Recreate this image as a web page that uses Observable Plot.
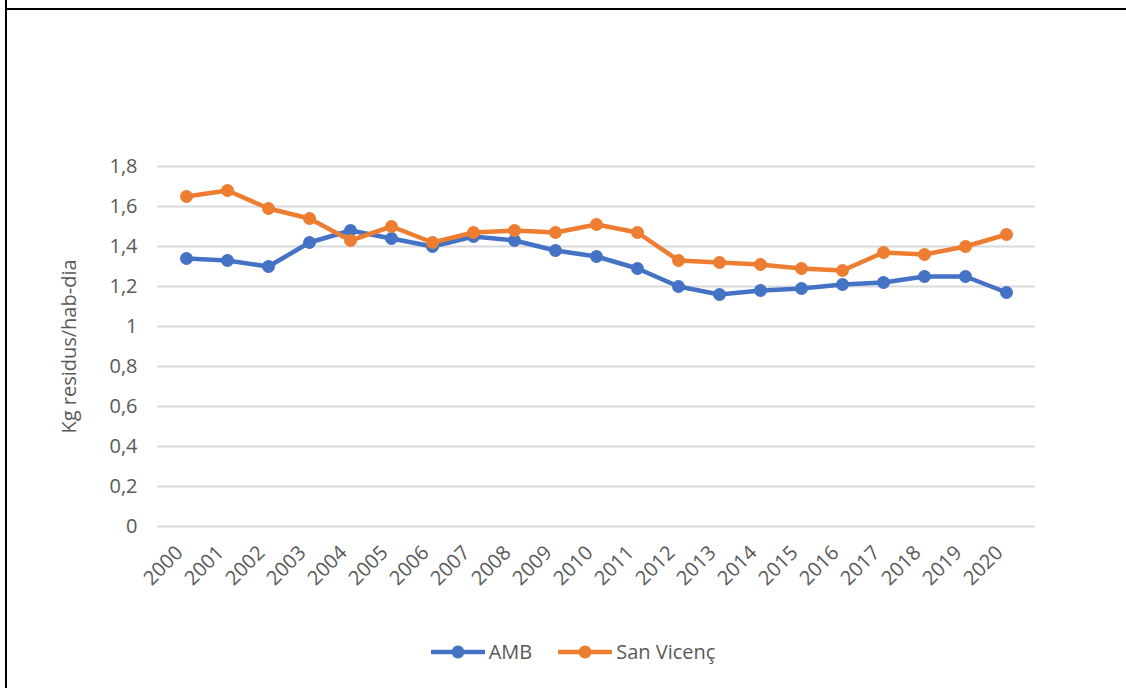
<!DOCTYPE html>
<html>
<head>
<meta charset="utf-8">
<script src="https://cdn.jsdelivr.net/npm/d3@7"></script>
<script src="https://cdn.jsdelivr.net/npm/@observablehq/plot@0.6"></script>
<style>
  html, body { margin: 0; padding: 0; background: #fff; }
  #wrap { position: relative; width: 1126px; height: 688px; overflow: hidden; font-family: "Open Sans", sans-serif; }
  .bl { position: absolute; left: 5px; top: 0; width: 2px; height: 688px; background: #000; }
  .bt { position: absolute; left: 5px; top: 8px; width: 1121px; height: 2px; background: #000; }
  #chart { position: absolute; left: 0; top: 0; }
  #legend { position: absolute; left: 0; top: 638px; width: 1126px; display: flex; justify-content: center; align-items: center; gap: 26px; color: #595959; font-size: 20px; padding-left: 20px; box-sizing: border-box; }
  .item { display: flex; align-items: center; gap: 4px; }
</style>
</head>
<body>
<div id="wrap">
  <div class="bl"></div>
  <div class="bt"></div>
  <div id="chart"></div>
  <div id="legend"></div>
</div>
<script>
const years = ["2000","2001","2002","2003","2004","2005","2006","2007","2008","2009","2010","2011","2012","2013","2014","2015","2016","2017","2018","2019","2020"];
const amb = [1.34,1.33,1.30,1.42,1.48,1.44,1.40,1.45,1.43,1.38,1.35,1.29,1.20,1.16,1.18,1.19,1.21,1.22,1.25,1.25,1.17];
const sanVicenc = [1.65,1.68,1.59,1.54,1.43,1.50,1.42,1.47,1.48,1.47,1.51,1.47,1.33,1.32,1.31,1.29,1.28,1.37,1.36,1.40,1.46];
const seriesNames = ["AMB", "San Vicenç"];
const seriesColors = ["#4472C4", "#ED7D31"];
const yTicks = [0, 0.2, 0.4, 0.6, 0.8, 1, 1.2, 1.4, 1.6, 1.8];
const yLabel = "Kg residus/hab-dia";

const ambData = years.map((y, i) => ({year: y, series: seriesNames[0], value: amb[i]}));
const svData = years.map((y, i) => ({year: y, series: seriesNames[1], value: sanVicenc[i]}));
const fmt = d => String(d).replace(".", ",");

const chart = Plot.plot({
  width: 1126,
  height: 640,
  marginTop: 166,
  marginBottom: 114,
  marginLeft: 157,
  marginRight: 91,
  style: {fontFamily: "'Open Sans', sans-serif", fontSize: "20px", color: "#595959", background: "transparent"},
  x: {type: "point", domain: years, padding: 0.5, label: null},
  y: {domain: [0, 1.8], label: null},
  color: {domain: seriesNames, range: seriesColors},
  marks: [
    Plot.gridY(yTicks, {stroke: "#d9d9d9", strokeOpacity: 1, strokeWidth: 2}),
    Plot.axisY(yTicks, {tickSize: 0, tickPadding: 20, tickFormat: fmt, label: yLabel, labelAnchor: "center", labelOffset: 96, labelArrow: "none"}),
    Plot.axisX({tickSize: 0, tickRotate: -45, tickPadding: 17, dx: -7, dy: 6}),
    Plot.line(ambData, {x: "year", y: "value", stroke: "series", strokeWidth: 4.5}),
    Plot.dot(ambData, {x: "year", y: "value", fill: "series", r: 6.5}),
    Plot.line(svData, {x: "year", y: "value", stroke: "series", strokeWidth: 4.5}),
    Plot.dot(svData, {x: "year", y: "value", fill: "series", r: 6.5})
  ]
});
document.getElementById("chart").appendChild(chart);

const legend = document.getElementById("legend");
seriesNames.forEach((name, i) => {
  const item = document.createElement("div");
  item.className = "item";
  item.innerHTML = `<svg width="54" height="16"><line x1="1" y1="8" x2="53" y2="8" stroke="${seriesColors[i]}" stroke-width="4.5" stroke-linecap="round"/><circle cx="27" cy="8" r="6.5" fill="${seriesColors[i]}"/></svg><span>${name}</span>`;
  legend.appendChild(item);
});
</script>
</body>
</html>
